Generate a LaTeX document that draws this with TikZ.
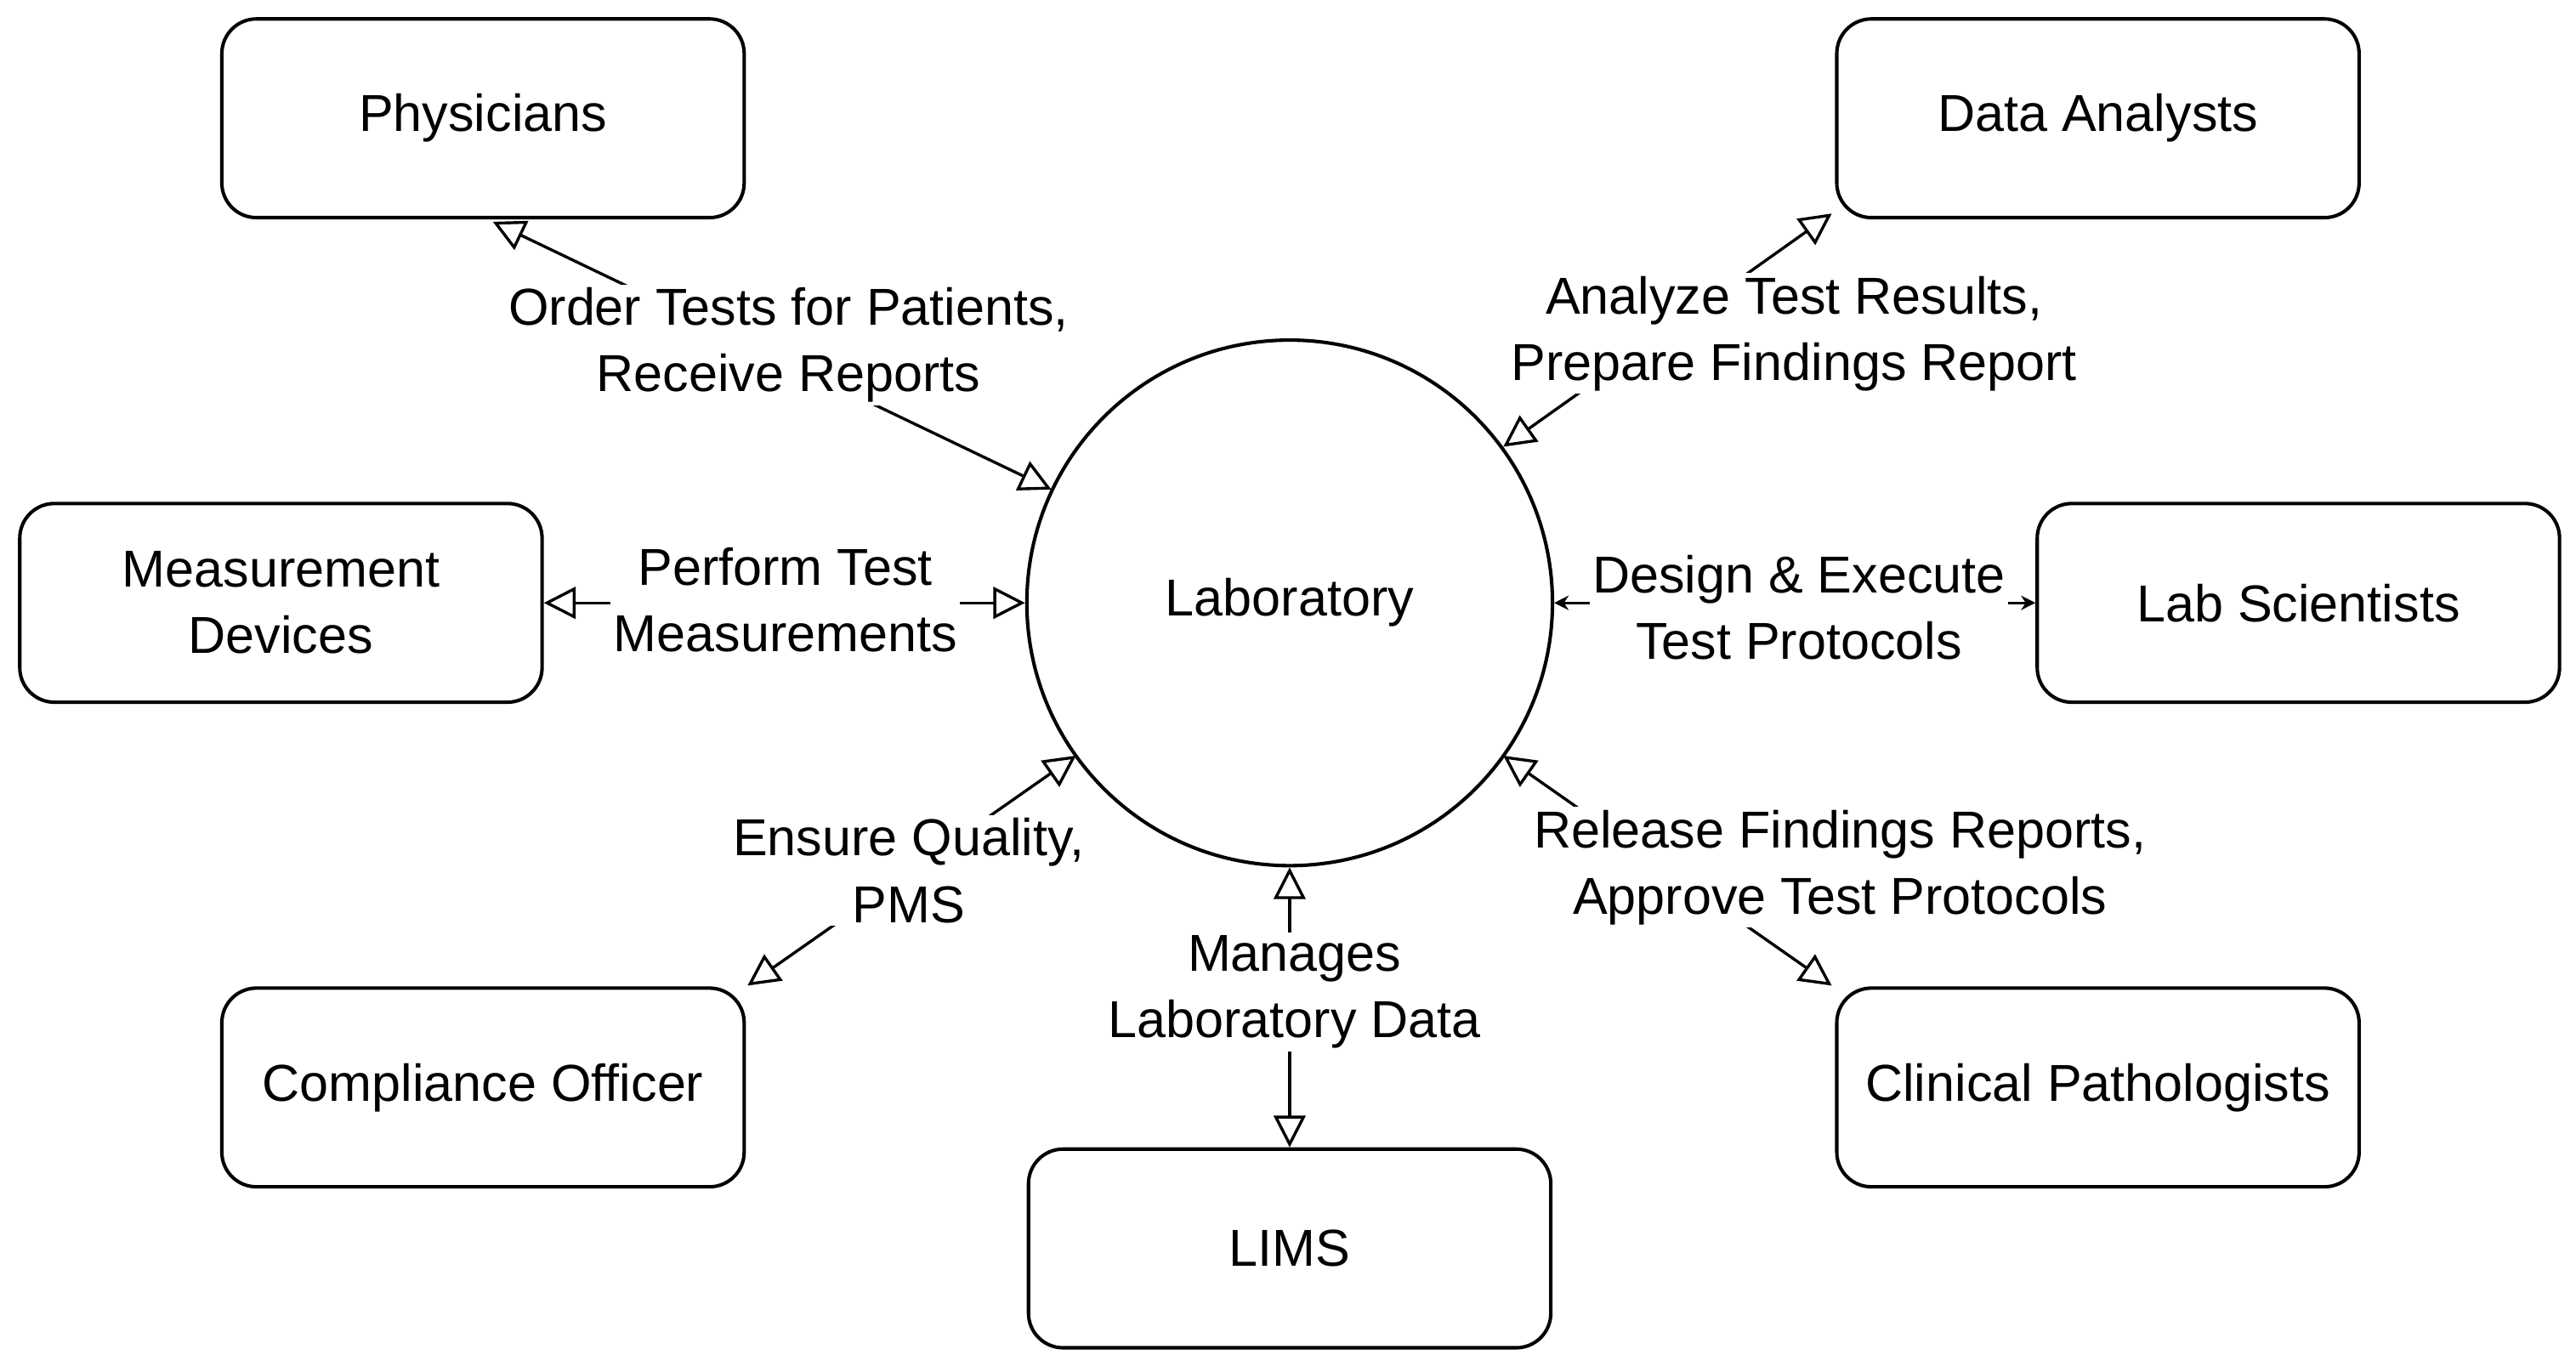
\documentclass[tikz,border=0pt]{standalone}
\usepackage{fontspec}
\setmainfont{Liberation Sans}
\usetikzlibrary{arrows.meta}
\begin{document}
\begin{tikzpicture}[x=0.02cm,y=-0.02cm,
  font=\fontsize{18}{23}\selectfont,
  box/.style={draw,line width=1.2pt,rounded corners=12pt,minimum width=6.36cm,minimum height=2.42cm,align=center},
  lk/.style={line width=1pt,{Triangle[open,length=11pt,width=11pt]}-{Triangle[open,length=11pt,width=11pt]}},
  lks/.style={line width=1pt,{Stealth[length=5pt,width=5pt]}-{Stealth[length=5pt,width=5pt]}},
  lab/.style={fill=white,align=center,inner sep=1pt}]
\useasboundingbox (0,0) rectangle (1568,835);
\node[draw,circle,line width=1.2pt,minimum size=6.4cm] (lab) at (785,367) {Laboratory};
\node[box] (phy) at (294,72) {Physicians};
\node[box] (da) at (1277,72) {Data Analysts};
\node[box] (md) at (171,367) {Measurement\\Devices};
\node[box] (ls) at (1399,367) {Lab Scientists};
\node[box] (co) at (294,662) {Compliance Officer};
\node[box] (cp) at (1277,662) {Clinical Pathologists};
\node[box] (lims) at (785,760) {LIMS};
\coordinate (p1) at (300,135); \coordinate (p2) at (640,298);
\coordinate (d1) at (1115,130); \coordinate (d2) at (915,272);
\coordinate (c1) at (455,600); \coordinate (c2) at (655,460);
\coordinate (k1) at (1115,600); \coordinate (k2) at (915,460);
\draw[lk] (p1) -- (p2);
\draw[lk] (d1) -- (d2);
\draw[lk] (md.east) -- (lab.west);
\draw[lks] (ls.west) -- (lab.east);
\draw[lk] (c1) -- (c2);
\draw[lk] (k1) -- (k2);
\draw[lk] (lims.north) -- (lab.south);
\node[lab] (l1) at (480,210) {Order Tests for Patients,\\Receive Reports};
\node[lab] (l2) at (1092,203) {Analyze Test Results,\\Prepare Findings Report};
\node[lab] (l3) at (478,365) {Perform Test\\Measurements};
\node[lab] (l4) at (1095,370) {Design \& Execute\\Test Protocols};
\node[lab] (l5) at (553,530) {Ensure Quality,\\PMS};
\node[lab] (l6) at (1120,528) {Release Findings Reports,\\Approve Test Protocols};
\node[lab] (l7) at (788,604) {Manages\\Laboratory Data};
\end{tikzpicture}
\end{document}
